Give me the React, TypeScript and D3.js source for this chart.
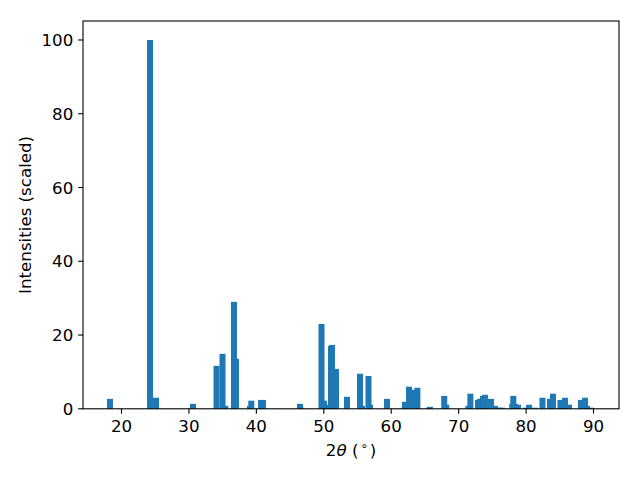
import React from "react";
import * as d3 from "d3";

const twoTheta: number[] = [
  18.29, 24.23, 25.12, 30.6, 34.09, 34.98, 35.39, 36.68, 36.98, 39.06, 39.25,
  40.69, 40.98, 46.47, 46.62, 49.66, 50.03, 50.33, 51.07, 51.22, 51.81, 53.44,
  55.37, 55.67, 56.63, 56.85, 59.37, 61.89, 62.04, 62.64, 63.44, 63.88, 65.6,
  65.75, 67.86, 68.16, 71.44, 71.74, 72.87, 73.16, 73.6, 73.9, 74.8, 75.39,
  75.98, 76.43, 77.95, 78.1, 78.35, 78.8, 79.99, 80.44, 81.32, 82.43, 83.54,
  83.99, 85.03, 85.1, 85.77, 86.37, 88.14, 88.74, 89.04, 89.63,
];
const intensities: number[] = [
  2.7, 100, 3.0, 1.35, 11.65, 14.9, 0.8, 29.0, 13.55, 0.8, 2.2,
  2.4, 2.4, 1.35, 0.3, 23.0, 2.2, 1.1, 17.0, 17.3, 10.8, 3.25,
  9.5, 0.8, 8.9, 1.1, 2.7, 0.3, 1.9, 6.0, 5.15, 5.7, 0.3,
  0.55, 3.5, 1.1, 0.8, 4.1, 2.4, 2.7, 3.5, 3.8, 2.7, 0.8,
  0.3, 0.3, 1.35, 3.5, 1.35, 1.1, 0.3, 1.1, 0.3, 3.0, 2.7,
  4.1, 0.3, 2.4, 3.0, 1.1, 2.4, 3.0, 0.8, 0.3,
];
const xTicks: number[] = [20, 30, 40, 50, 60, 70, 80, 90];
const yTicks: number[] = [0, 20, 40, 60, 80, 100];

const W = 640;
const H = 480;
const left = 83;
const right = 619;
const top = 21;
const bottom = 408.8;
const barWidth = 0.89;
const color = "#1f77b4";
const font = "DejaVu Sans, sans-serif";

export default function App() {
  const x = d3.scaleLinear().domain([14.29, 93.78]).range([left, right]);
  const y = d3.scaleLinear().domain([0, 105.15]).range([bottom, top]);
  const bw = x(barWidth) - x(0);
  return (
    <svg
      width={W}
      height={H}
      style={{ position: "absolute", left: 0, top: 0, background: "#fff" }}
      fontFamily={font}
    >
      <rect width={W} height={H} fill="#fff" />
      {twoTheta.map((t, i) => (
        <rect
          key={i}
          x={x(t) - bw / 2}
          y={y(intensities[i])}
          width={bw}
          height={y(0) - y(intensities[i])}
          fill={color}
        />
      ))}
      <rect
        x={left}
        y={top}
        width={right - left}
        height={bottom - top}
        fill="none"
        stroke="#000"
        strokeWidth={1.1}
      />
      {xTicks.map((t) => (
        <g key={t}>
          <line x1={x(t)} x2={x(t)} y1={bottom} y2={bottom + 4.86} stroke="#000" strokeWidth={1.1} />
          <text x={x(t)} y={432} textAnchor="middle" fontSize={16.67} fill="#000">
            {t}
          </text>
        </g>
      ))}
      {yTicks.map((t) => (
        <g key={t}>
          <line x1={left - 4.86} x2={left} y1={y(t)} y2={y(t)} stroke="#000" strokeWidth={1.1} />
          <text x={73.3} y={y(t) + 6.1} textAnchor="end" fontSize={16.67} fill="#000">
            {t}
          </text>
        </g>
      ))}
      <text x={(left + right) / 2} y={456} textAnchor="middle" fontSize={16.67} fill="#000">
        <tspan>2</tspan>
        <tspan fontStyle="italic">θ</tspan>
        <tspan> (</tspan>
        <tspan dx={2} dy={-6} fontSize={11.7}>∘</tspan>
        <tspan dx={2} dy={6}>)</tspan>
      </text>
      <text
        transform={`translate(30.5, ${(top + bottom) / 2}) rotate(-90)`}
        textAnchor="middle"
        fontSize={16.67}
        fill="#000"
      >
        Intensities (scaled)
      </text>
    </svg>
  );
}
